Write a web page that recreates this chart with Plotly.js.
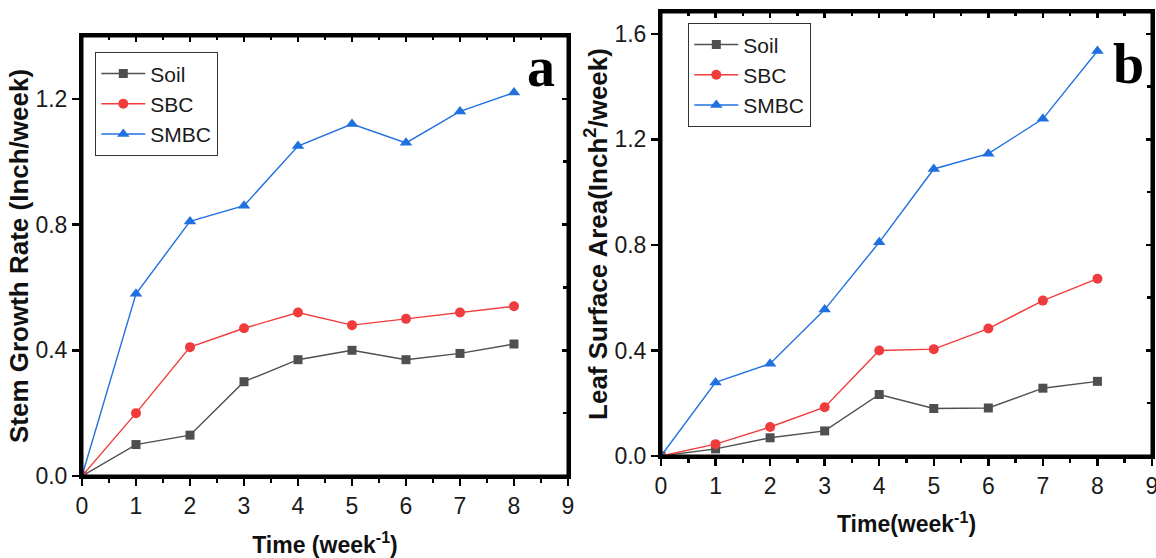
<!DOCTYPE html>
<html>
<head>
<meta charset="utf-8">
<script src="https://cdn.plot.ly/plotly-3.0.1.min.js"></script>
<style>html,body{margin:0;padding:0;background:#fff;}#chart{width:1156px;height:558px;}</style>
</head>
<body>
<div id="chart"></div>
<script>
// ---- data ----
const weeks = [0, 1, 2, 3, 4, 5, 6, 7, 8];
const seriesNames = ['Soil', 'SBC', 'SMBC'];

// panel a: Stem Growth Rate (Inch/week)
const stemSoil = [0, 0.10, 0.13, 0.30, 0.37, 0.40, 0.37, 0.39, 0.42];
const stemSBC  = [0, 0.20, 0.41, 0.47, 0.52, 0.48, 0.50, 0.52, 0.54];
const stemSMBC = [0, 0.58, 0.81, 0.86, 1.05, 1.12, 1.06, 1.16, 1.22];

// panel b: Leaf Surface Area (Inch^2/week)
const leafSoil = [0, 0.027, 0.069, 0.095, 0.233, 0.180, 0.182, 0.257, 0.283];
const leafSBC  = [0, 0.045, 0.110, 0.185, 0.400, 0.405, 0.483, 0.589, 0.672];
const leafSMBC = [0, 0.279, 0.350, 0.555, 0.810, 1.088, 1.146, 1.278, 1.535];

const xTickVals = [0, 1, 2, 3, 4, 5, 6, 7, 8, 9];

// ---- styles ----
const colors = ['#4f4f4f', '#f03c3c', '#2170e0'];
const symbols = ['square', 'circle', 'triangle-up'];
const msizes = [9, 10, 11];
const FONT = 'Liberation Sans, Arial, sans-serif';

function mk(y, i, xa, ya, leg, show) {
  return {
    x: weeks, y: y, name: seriesNames[i], type: 'scatter', mode: 'lines+markers',
    xaxis: xa, yaxis: ya, legend: leg, showlegend: show,
    line: {color: colors[i], width: 1.4},
    marker: {color: colors[i], symbol: symbols[i], size: msizes[i]}
  };
}

const data = [
  mk(stemSoil, 0, 'x', 'y', 'legend', true),
  mk(stemSBC, 1, 'x', 'y', 'legend', true),
  mk(stemSMBC, 2, 'x', 'y', 'legend', true),
  mk(leafSoil, 0, 'x2', 'y2', 'legend2', true),
  mk(leafSBC, 1, 'x2', 'y2', 'legend2', true),
  mk(leafSMBC, 2, 'x2', 'y2', 'legend2', true),
  {x: [], y: [], xaxis: 'x3', yaxis: 'y3', showlegend: false, type: 'scatter'},
  {x: [], y: [], xaxis: 'x4', yaxis: 'y4', showlegend: false, type: 'scatter'}
];

const tickFont = {family: FONT, size: 23, color: '#1a1a1a'};
const xTitleFont = {family: FONT, size: 23, color: '#111', weight: 'bold'};
const yTitleFont = {family: FONT, size: 26, color: '#111', weight: 'bold'};

function xBottom(domain, anchor, title, standoff) {
  return {
    domain: domain, anchor: anchor, range: [0, 9], tickvals: xTickVals,
    ticks: 'outside', ticklen: 7, tickwidth: 2.5, tickcolor: '#000',
    showline: true, linewidth: 3, linecolor: '#000', mirror: true,
    showgrid: false, zeroline: false, tickfont: Object.assign({}, tickFont), ticklabeloverflow: 'allow',
    minor: {dtick: 0.5, tick0: 0, ticks: 'outside', ticklen: 4, tickwidth: 2.5, tickcolor: '#000', showgrid: false},
    title: {text: title, font: Object.assign({}, xTitleFont), standoff: standoff}
  };
}
function yLeft(domain, anchor, range, title) {
  return {
    domain: domain, anchor: anchor, range: range, tickvals: [0, 0.4, 0.8, 1.2, 1.6],
    tickformat: '.1f',
    ticks: 'outside', ticklen: 7, tickwidth: 2.5, tickcolor: '#000',
    showline: true, linewidth: 3, linecolor: '#000', mirror: true,
    showgrid: false, zeroline: false, tickfont: Object.assign({}, tickFont),
    title: {text: title, font: Object.assign({}, yTitleFont), standoff: 0}
  };
}
function xTop(over, anchor) {
  return {
    overlaying: over, anchor: anchor, side: 'top', range: [0, 9], tickvals: xTickVals,
    ticks: 'inside', ticklen: 6, tickwidth: 2.5, tickcolor: '#000', showticklabels: false,
    showline: false, showgrid: false, zeroline: false,
    minor: {dtick: 0.5, tick0: 0, ticks: 'inside', ticklen: 4, tickwidth: 2.5, tickcolor: '#000', showgrid: false}
  };
}
function yRight(over, anchor, range) {
  return {
    overlaying: over, anchor: anchor, side: 'right', range: range, dtick: 0.4, tick0: 0,
    ticks: 'inside', ticklen: 6, tickwidth: 2.5, tickcolor: '#000', showticklabels: false,
    showline: false, showgrid: false, zeroline: false,
    minor: {dtick: 0.2, tick0: 0, ticks: 'inside', ticklen: 5, tickwidth: 2.5, tickcolor: '#000', showgrid: false}
  };
}

const W = 1156, H = 558;
const aDomX = [82 / W, 568 / W], aDomY = [1 - 476 / H, 1 - 36 / H];
const bDomX = [661 / W, 1152 / W], bDomY = [1 - 456 / H, 1 - 12 / H];
const aRange = [0, 1.4], bRange = [0, 1.683];

const legendBase = {
  font: {family: FONT, size: 21, color: '#1a1a1a'},
  bgcolor: 'rgba(255,255,255,0)', bordercolor: '#333', borderwidth: 1.3,
  xanchor: 'left', yanchor: 'top', tracegroupgap: 0, itemwidth: 44
};

function frame(xr, yr) {
  return {type: 'rect', xref: xr + ' domain', yref: yr + ' domain', x0: 0, x1: 1, y0: 0, y1: 1,
          line: {color: '#000', width: 3}, fillcolor: 'rgba(0,0,0,0)', layer: 'above'};
}

const layout = {
  width: W, height: H,
  margin: {l: 0, r: 0, t: 0, b: 0},
  paper_bgcolor: '#fff', plot_bgcolor: '#fff',
  showlegend: true,
  xaxis: xBottom(aDomX, 'y', 'Time (week<sup>-1</sup>)', 21),
  yaxis: yLeft(aDomY, 'x', aRange, 'Stem Growth Rate (Inch/week)'),
  xaxis2: xBottom(bDomX, 'y2', 'Time(week<sup>-1</sup>)', 19),
  yaxis2: yLeft(bDomY, 'x2', bRange, 'Leaf Surface Area(Inch<sup>2</sup>/week)'),
  xaxis3: xTop('x', 'y3'),
  yaxis3: yRight('y', 'x3', aRange),
  xaxis4: xTop('x2', 'y4'),
  yaxis4: yRight('y2', 'x4', bRange),
  legend: Object.assign({}, legendBase, {x: 95 / W, y: 1 - 52 / H}),
  legend2: Object.assign({}, legendBase, {x: 688 / W, y: 1 - 23 / H}),
  shapes: [frame('x', 'y'), frame('x2', 'y2')],
  annotations: [
    {text: '<b>a</b>', xref: 'paper', yref: 'paper', x: 541 / W, y: 1 - 67 / H,
     xanchor: 'center', yanchor: 'middle', showarrow: false,
     font: {family: 'Liberation Serif, Times New Roman, serif', size: 56, color: '#000'}},
    {text: '<b>b</b>', xref: 'paper', yref: 'paper', x: 1128 / W, y: 1 - 64 / H,
     xanchor: 'center', yanchor: 'middle', showarrow: false,
     font: {family: 'Liberation Serif, Times New Roman, serif', size: 56, color: '#000'}}
  ]
};

Plotly.newPlot('chart', data, layout, {displayModeBar: false, staticPlot: true});
</script>
</body>
</html>
